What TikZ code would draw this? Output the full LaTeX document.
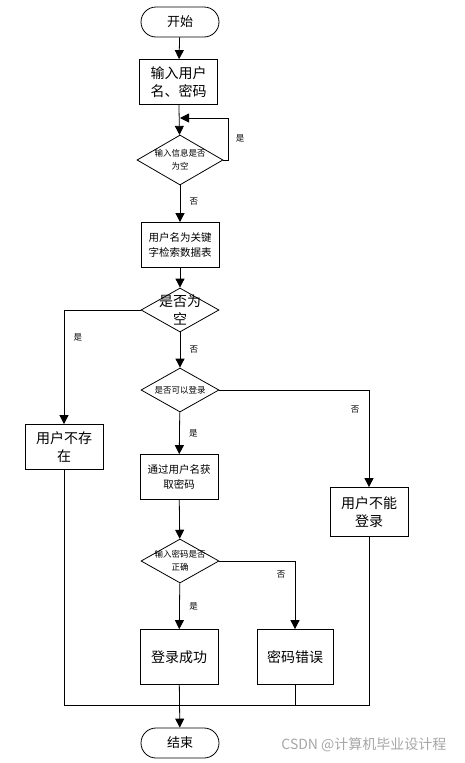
\documentclass[tikz,border=0pt]{standalone}
\usepackage{fontspec}
\setmainfont{Noto Sans CJK SC}
\usetikzlibrary{shapes.geometric,arrows.meta}
\begin{document}
\begin{tikzpicture}[x=1pt,y=-1pt,
 box/.style={draw,line width=0.8pt,minimum width=78pt,minimum height=45pt,align=center,inner sep=1pt},
 term/.style={draw,line width=0.8pt,rounded corners=15pt,minimum width=78pt,minimum height=30pt,font=\fontsize{13}{15}\selectfont},
 dia/.style={draw,line width=0.8pt,diamond,aspect=1.8,minimum width=78pt,minimum height=44pt,inner xsep=-10pt,inner ysep=-3pt,align=center},
 big/.style={font=\fontsize{14}{18}\selectfont},
 mid/.style={font=\fontsize{10.5}{15}\selectfont},
 sm/.style={font=\fontsize{8.5}{13}\selectfont},
 lab/.style={font=\fontsize{8.5}{10}\selectfont},
 ar/.style={line width=0.8pt,-{Triangle[length=9pt,width=9pt]}},
 ln/.style={line width=0.8pt}]
\useasboundingbox (0,0) rectangle (465,763);
\node[term] (start) at (180,22) {开始};
\node[box,big] (b1) at (178.5,82) {输入用户\\名、密码};
\node[dia,sm,minimum width=86pt,minimum height=50pt] (d1) at (180,160) {输入信息是否\\为空};
\node[box,mid] (b2) at (180,245) {用户名为关键\\字检索数据表};
\node[dia,big] (d2) at (180,310) {是否为\\空};
\node[box,big] (b3) at (64,447) {用户不存\\在};
\node[dia,sm] (d3) at (180,390) {是否可以登录};
\node[box,mid] (b4) at (179,477) {通过用户名获\\取密码};
\node[box,big,minimum height=49pt] (b7) at (369,512) {用户不能\\登录};
\node[dia,sm] (d4) at (180,561) {输入密码是否\\正确};
\node[box,big,minimum height=55pt] (b6) at (179,657) {登录成功};
\node[box,big,minimum height=55pt,minimum width=76pt] (b5) at (295,657) {密码错误};
\node[term] (end) at (180,743) {结束};
\coordinate (m) at (180,705);
\coordinate (lp) at (180,118);
\draw[ar] (start) -- (b1);
\draw[ar] (b1) -- (d1);
\draw[ln] (d1.east) -| (228,118);
\draw[ar] (228,118) -- (lp);
\node[lab] (y1) at (240,138) {是};
\draw[ar] (d1) -- node[lab,right=6pt,pos=0.45] (n1) {否} (b2);
\draw[ar] (b2) -- (d2);
\draw[ar] (d2.west) -| node[lab,pos=0.62,right=6pt] (y2) {是} (b3.north);
\draw[ar] (d2) -- node[lab,right=6pt] (n2) {否} (d3);
\draw[ar] (d3.east) -| node[lab,pos=0.6,left=6pt] (n3) {否} (b7.north);
\draw[ar] (d3) -- node[lab,right=6pt] (y3) {是} (b4);
\draw[ar] (b4) -- (d4);
\draw[ar] (d4.east) -| node[lab,pos=0.6,left=6pt] (n4) {否} (b5.north);
\draw[ar] (d4) -- node[lab,right=6pt] (y4) {是} (b6);
\draw[ln] (b3.south) |- (m);
\draw[ln] (b5.south) |- (m);
\draw[ln] (b7.south) |- (m);
\draw[ar] (b6) -- (end);
\node[text=gray!70,font=\fontsize{14}{16}\selectfont,anchor=east] (wm) at (450,745) {CSDN @计算机毕业设计程};
\end{tikzpicture}
\end{document}
